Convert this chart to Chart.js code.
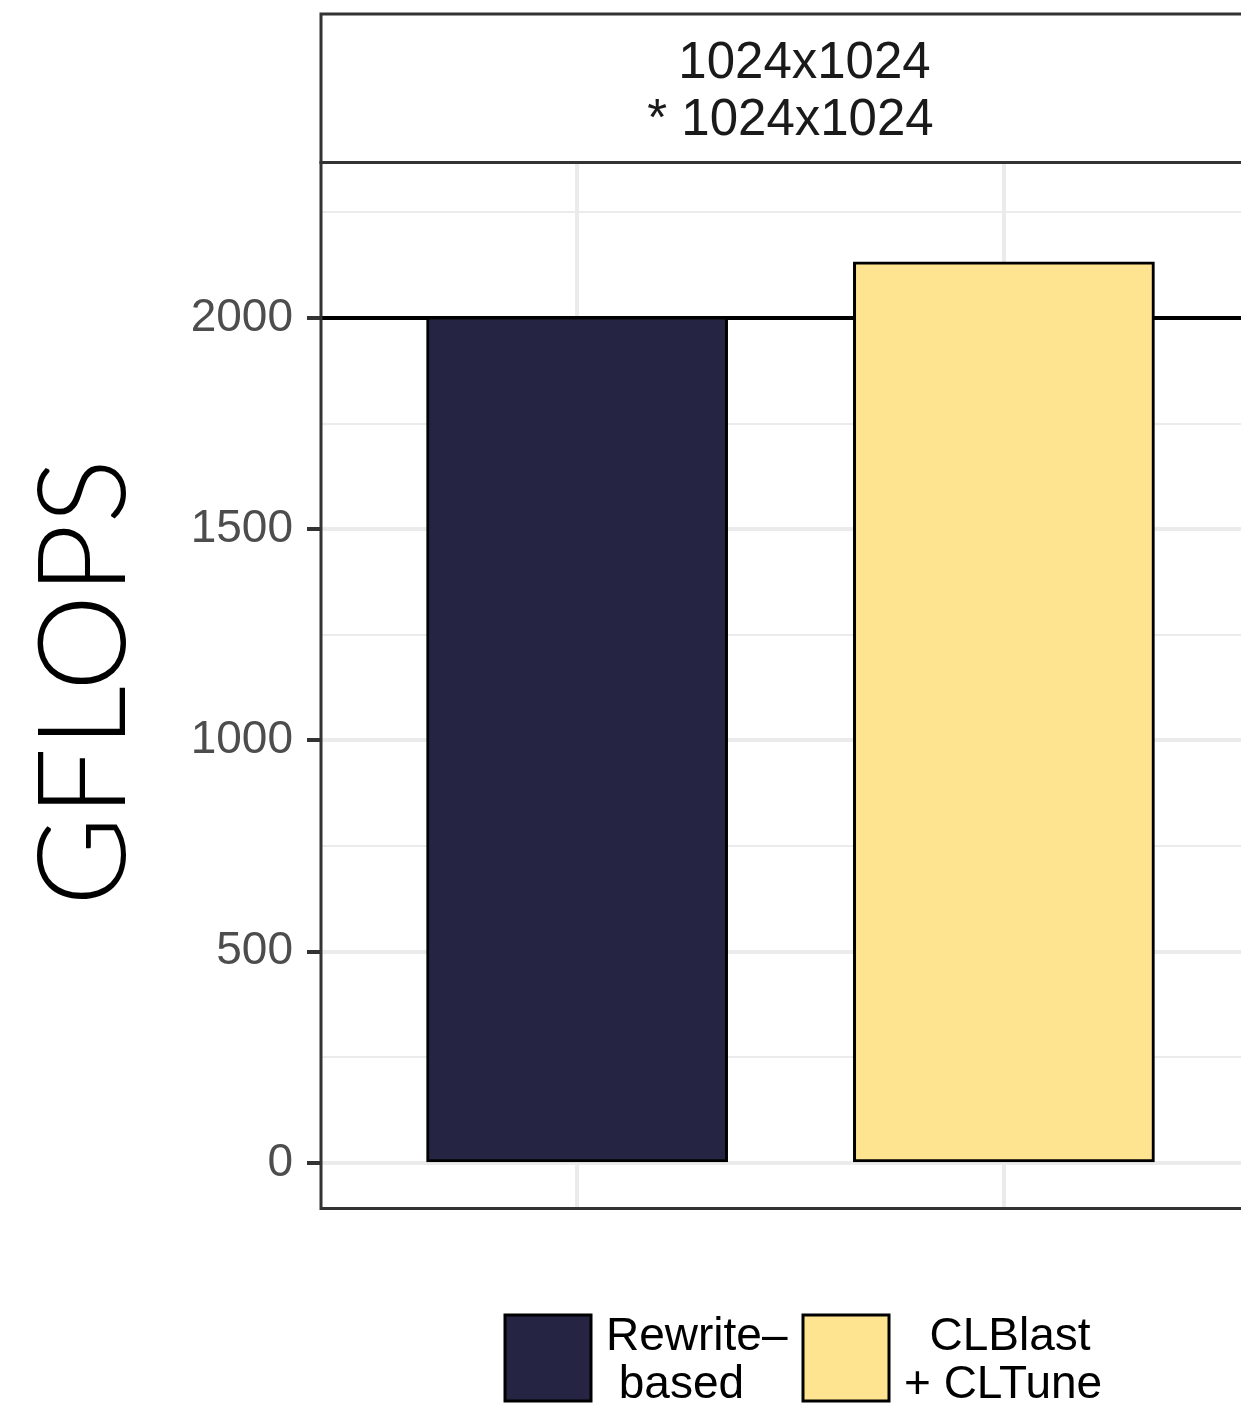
<!DOCTYPE html>
<html>
<head>
<meta charset="utf-8">
<script src="https://cdn.jsdelivr.net/npm/chart.js@4/dist/chart.umd.min.js"></script>
<style>
  html, body { margin: 0; padding: 0; overflow: hidden; background: #ffffff; }
  canvas { display: block; }
</style>
</head>
<body>
<canvas id="chart" width="1280" height="1409"></canvas>
<script>
// ---- data ----
const seriesNames = ['Rewrite–based', 'CLBlast + CLTune'];
const legendLines = [['Rewrite–', ' based'], ['  CLBlast', '+ CLTune']];
const gflops = [2000, 2130];
const barColors = ['#252543', '#fee391'];
const facetLines = ['1024x1024', '* 1024x1024'];
const yTitle = 'GFLOPS';
const referenceValue = 2000;
const yGridValues = [0, 250, 500, 750, 1000, 1250, 1500, 1750, 2000, 2250];
const yLabelStep = 500;     // only these grid values carry a label
const yLimits = [-108, 2368];
const xLimits = [0.4, 2.6];

// ---- look ----
const SANS = "'Liberation Sans', Arial, Helvetica, sans-serif";
const FRAME = '#333333';
const GRID = '#ebebeb';

const isMajor = v => Math.abs(v % yLabelStep) < 1e-9;

const decor = {
  id: 'decor',
  beforeDatasetsDraw(chart) {
    const { ctx, chartArea: a, scales: { y } } = chart;
    const py = y.getPixelForValue(referenceValue);
    ctx.save();
    ctx.strokeStyle = '#000';
    ctx.lineWidth = 4;
    ctx.beginPath();
    ctx.moveTo(a.left, py);
    ctx.lineTo(a.right, py);
    ctx.stroke();
    ctx.restore();
  },
  afterDraw(chart) {
    const { ctx, chartArea: a } = chart;
    ctx.save();

    // panel frame
    ctx.strokeStyle = FRAME;
    ctx.lineWidth = 3;
    ctx.strokeRect(a.left, a.top, a.right - a.left, a.bottom - a.top);

    // facet strip
    const stripTop = 14;
    ctx.strokeRect(a.left, stripTop, a.right - a.left, a.top - stripTop);
    ctx.fillStyle = '#1a1a1a';
    ctx.font = `51px ${SANS}`;
    ctx.textAlign = 'left';
    ctx.textBaseline = 'alphabetic';
    const blockW = Math.max(...facetLines.map(t => ctx.measureText(t).width));
    const cx = (a.left + a.right) / 2;
    const x0 = cx - blockW / 2;
    const w0 = ctx.measureText(facetLines[0]).width;
    // first line sits over the numbers of the second
    const shift = blockW - w0;
    ctx.fillText(facetLines[0], x0 + shift - 3, 78);
    ctx.fillText(facetLines[1], x0, 135);

    // y axis title
    ctx.save();
    ctx.translate(125, (a.top + a.bottom) / 2 - 3);
    ctx.rotate(-Math.PI / 2);
    ctx.fillStyle = '#000';
    ctx.font = `300 122px Lato, ${SANS}`;
    ctx.textAlign = 'center';
    ctx.fillText(yTitle, 0, 0);
    ctx.restore();

    // legend
    const boxes = [505, 803];
    const boxY = 1315, boxS = 86;
    ctx.font = `46px ${SANS}`;
    ctx.textAlign = 'left';
    chart.data.datasets.forEach((ds, i) => {
      const bx = boxes[i];
      ctx.fillStyle = ds.backgroundColor;
      ctx.fillRect(bx, boxY, boxS, boxS);
      ctx.strokeStyle = '#000';
      ctx.lineWidth = 3;
      ctx.strokeRect(bx, boxY, boxS, boxS);
      ctx.fillStyle = '#000';
      const tx = bx + boxS + 15;
      legendLines[i].forEach((line, k) => ctx.fillText(line, tx, 1350 + k * 48));
    });
    ctx.restore();
  }
};

new Chart(document.getElementById('chart'), {
  type: 'bar',
  data: {
    datasets: seriesNames.map((name, i) => ({
      label: name,
      data: [{ x: i + 1, y: gflops[i] }],
      backgroundColor: barColors[i],
      borderColor: '#000',
      borderWidth: 3,
      borderSkipped: false,
      inflateAmount: 1.5,
      barPercentage: 0.7,
      categoryPercentage: 1,
      grouped: false
    }))
  },
  options: {
    responsive: false,
    animation: false,
    devicePixelRatio: 1,
    layout: { autoPadding: false, padding: { left: 0, top: 162.5, right: 20, bottom: 200.5 } },
    plugins: { legend: { display: false }, tooltip: { enabled: false } },
    scales: {
      x: {
        type: 'linear',
        min: xLimits[0],
        max: xLimits[1],
        offset: false,
        afterBuildTicks: s => { s.ticks = seriesNames.map((_, i) => ({ value: i + 1 })); },
        afterFit: s => { s.height = 0; },
        ticks: { display: false },
        grid: { offset: false, color: GRID, lineWidth: 4, drawTicks: false },
        border: { display: false }
      },
      y: {
        min: yLimits[0],
        max: yLimits[1],
        afterBuildTicks: s => { s.ticks = yGridValues.map(v => ({ value: v })); },
        afterFit: s => { s.width = 321; },
        ticks: {
          padding: 14,
          autoSkip: false,
          color: '#4d4d4d',
          font: { family: SANS, size: 46 },
          callback: v => (isMajor(v) ? String(v) : '')
        },
        grid: {
          offset: false,
          color: GRID,
          lineWidth: c => (isMajor(c.tick.value) ? 4 : 2),
          tickLength: 14,
          tickWidth: 4,
          tickColor: c => (isMajor(c.tick.value) ? FRAME : 'rgba(0,0,0,0)')
        },
        border: { display: false }
      }
    }
  },
  plugins: [decor]
});
</script>
</body>
</html>
